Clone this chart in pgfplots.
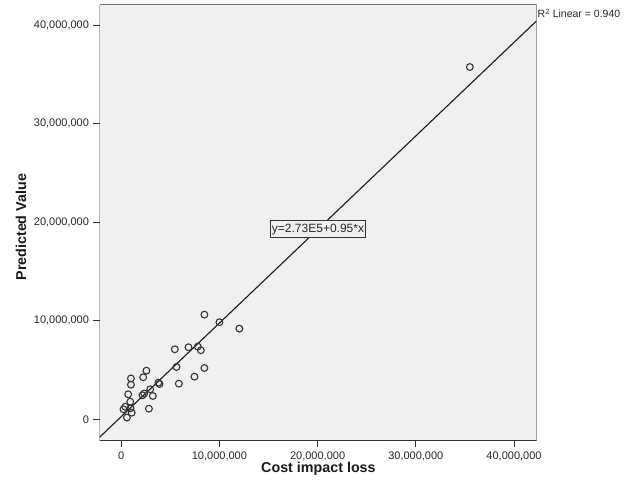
\documentclass[border=0pt]{standalone}
\usepackage{fontspec}
\setmainfont{Liberation Sans}
\usepackage{pgfplots}
\pgfplotsset{compat=1.18}
\definecolor{bgc}{HTML}{F0F0F0}
\definecolor{txt}{HTML}{262626}
\definecolor{mk}{HTML}{333333}
\begin{document}
\begin{tikzpicture}[x=1bp,y=1bp]
\useasboundingbox (0,0) rectangle (634,489);
\begin{axis}[
  at={(99.5bp,48bp)}, anchor=south west,
  scale only axis, width=437bp, height=436.3bp,
  xmin=-2.21e6, xmax=42.29e6, ymin=-2.2e6, ymax=42.1e6,
  axis background/.style={fill=bgc},
  axis line style={draw=none},
  xtick={0,10000000,20000000,30000000,40000000},
  ytick={0,10000000,20000000,30000000,40000000},
  scaled ticks=false,
  /pgf/number format/.cd, fixed, precision=0, 1000 sep={,}, assume math mode=true,
  /pgfplots/.cd,
  tick align=outside, xtick pos=bottom, ytick pos=left,
  major tick length=6.5bp,
  tick style={draw=black!80, line width=0.8bp},
  ticklabel style={font=\fontsize{11bp}{13bp}\selectfont, text=txt},
  xticklabel style={yshift=-1bp},
  yticklabel style={xshift=-0.5bp},
  xlabel={Cost impact loss}, ylabel={Predicted Value},
  label style={font=\fontsize{14.3bp}{16bp}\selectfont\bfseries, text=black!90},
  xlabel style={at={(axis description cs:0.501,-0.064)}, anchor=center},
  ylabel style={at={(axis description cs:-0.1796,0.49)}, anchor=center, rotate=0},
  clip=true,
]
\addplot[black!90, line width=1.1bp] coordinates {(-2.21e6,-1.8265e6) (42.29e6,40.4485e6)};
\addplot[only marks, mark=o, mark size=3.4bp, mark options={draw=mk, line width=1.1bp}] coordinates {
(35.50e6,35.77e6)
(8.47e6,10.63e6)
(10.00e6,9.86e6)
(12.03e6,9.21e6)
(5.46e6,7.11e6)
(6.85e6,7.32e6)
(7.80e6,7.38e6)
(8.11e6,7.01e6)
(5.63e6,5.32e6)
(8.47e6,5.21e6)
(7.46e6,4.33e6)
(5.87e6,3.62e6)
(2.57e6,4.94e6)
(2.24e6,4.27e6)
(0.99e6,4.15e6)
(0.99e6,3.52e6)
(3.79e6,3.72e6)
(3.90e6,3.59e6)
(2.95e6,3.05e6)
(3.22e6,2.37e6)
(2.17e6,2.44e6)
(2.34e6,2.62e6)
(0.71e6,2.54e6)
(0.92e6,1.79e6)
(0.41e6,1.28e6)
(0.23e6,1.02e6)
(0.95e6,1.12e6)
(1.07e6,0.67e6)
(0.58e6,0.18e6)
(2.82e6,1.08e6)
};
\draw[black!80, line width=1bp] (rel axis cs:0,1) -- (rel axis cs:0,0) -- (rel axis cs:1,0);
\draw[black!55, line width=1bp] (rel axis cs:0,1) -- (rel axis cs:1,1) -- (rel axis cs:1,0);
\node[draw=black!80, fill=bgc, line width=0.9bp, inner xsep=1.5bp, inner ysep=3bp, font=\fontsize{12bp}{14bp}\selectfont, text=txt] at (axis cs:20.04e6,19.29e6) {y=2.73E5+0.95*x};
\end{axis}
\node[anchor=base west, inner sep=0pt, font=\fontsize{10.5bp}{12bp}\selectfont, text=txt] at (537.5,471) {R\textsuperscript{2} Linear = 0.940};
\end{tikzpicture}
\end{document}
